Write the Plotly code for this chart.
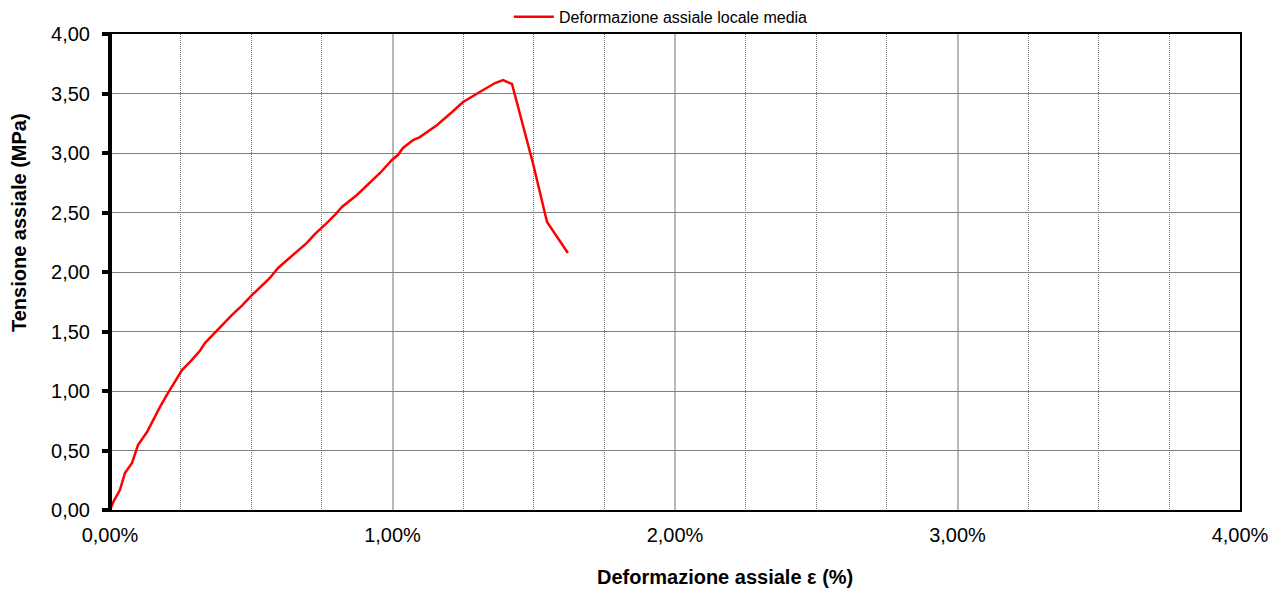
import plotly.graph_objects as go

# Data (strain in %, stress in MPa)
strain_pct = [0.0, 0.012, 0.035, 0.053, 0.078, 0.099, 0.131, 0.152, 0.177, 0.205,
              0.230, 0.255, 0.290, 0.319, 0.336, 0.382, 0.432, 0.468, 0.503, 0.566,
              0.595, 0.627, 0.660, 0.697, 0.726, 0.750, 0.768, 0.796, 0.821, 0.874,
              0.920, 0.956, 0.998, 1.019, 1.037, 1.073, 1.097, 1.158, 1.211, 1.250,
              1.303, 1.363, 1.391, 1.423, 1.497, 1.547, 1.621]
stress_mpa = [0.0, 0.07, 0.168, 0.311, 0.395, 0.546, 0.655, 0.756, 0.866, 0.983,
              1.08, 1.176, 1.261, 1.34, 1.403, 1.52, 1.639, 1.72, 1.807, 1.95,
              2.034, 2.101, 2.17, 2.244, 2.32, 2.37, 2.412, 2.479, 2.546, 2.647,
              2.748, 2.832, 2.941, 2.983, 3.042, 3.109, 3.134, 3.235, 3.345, 3.429,
              3.504, 3.588, 3.613, 3.580, 2.916, 2.420, 2.160]

series_name = "Deformazione assiale locale media"
x_title = "Deformazione assiale ε (%)"
y_title = "Tensione assiale (MPa)"

x_tickvals = [0.0, 0.01, 0.02, 0.03, 0.04]
x_ticktext = ["0,00%", "1,00%", "2,00%", "3,00%", "4,00%"]
y_tickvals = [0, 0.5, 1, 1.5, 2, 2.5, 3, 3.5, 4]
y_ticktext = ["0,00", "0,50", "1,00", "1,50", "2,00", "2,50", "3,00", "3,50", "4,00"]

FONT = "Liberation Sans, Arial, sans-serif"

fig = go.Figure()
fig.add_trace(go.Scatter(
    x=[v / 100 for v in strain_pct], y=stress_mpa, mode="lines",
    name=series_name, line=dict(color="#ff0000", width=2.5),
))

fig.update_layout(
    width=1269, height=582,
    margin=dict(l=102, r=37, t=26, b=80, autoexpand=False),
    paper_bgcolor="white", plot_bgcolor="white",
    font=dict(family=FONT, size=20, color="black"),
    showlegend=True,
    legend=dict(orientation="h", x=0.4875, xanchor="center", y=1.036, yanchor="middle",
                font=dict(size=16), bgcolor="rgba(0,0,0,0)", itemwidth=40),
    xaxis=dict(
        range=[0, 0.04], tickvals=x_tickvals, ticktext=x_ticktext,
        showgrid=True, gridcolor="#b8b8b8", gridwidth=2,
        minor=dict(dtick=0.0025, showgrid=True, gridcolor="#777777", gridwidth=1,
                   griddash="1px,1px"),
        showline=True, linecolor="black", linewidth=2, mirror=True,
        ticks="", zeroline=False, ticklabelstandoff=6,
    ),
    yaxis=dict(
        range=[0, 4], tickvals=y_tickvals, ticktext=y_ticktext,
        showgrid=True, gridcolor="#7f7f7f", gridwidth=1,
        showline=True, linecolor="black", linewidth=2, mirror=True,
        ticks="outside", ticklen=6, tickwidth=4, tickcolor="black",
        zeroline=False, ticklabelstandoff=8,
    ),
    annotations=[
        dict(text="<b>" + x_title + "</b>", xref="paper", yref="paper",
             x=(725 - 110) / 1130, y=-(577 - 510) / 476, xanchor="center", yanchor="middle",
             showarrow=False, font=dict(size=20)),
        dict(text="<b>" + y_title + "</b>", xref="paper", yref="paper",
             x=-(110 - 19) / 1130, y=(510 - 223) / 476, xanchor="center", yanchor="middle",
             textangle=-90, showarrow=False, font=dict(size=20)),
    ],
    shapes=[
        dict(type="line", xref="paper", yref="paper", x0=0, x1=0, y0=0, y1=1,
             line=dict(color="black", width=4)),
    ],
)

fig.write_html("out.html")
